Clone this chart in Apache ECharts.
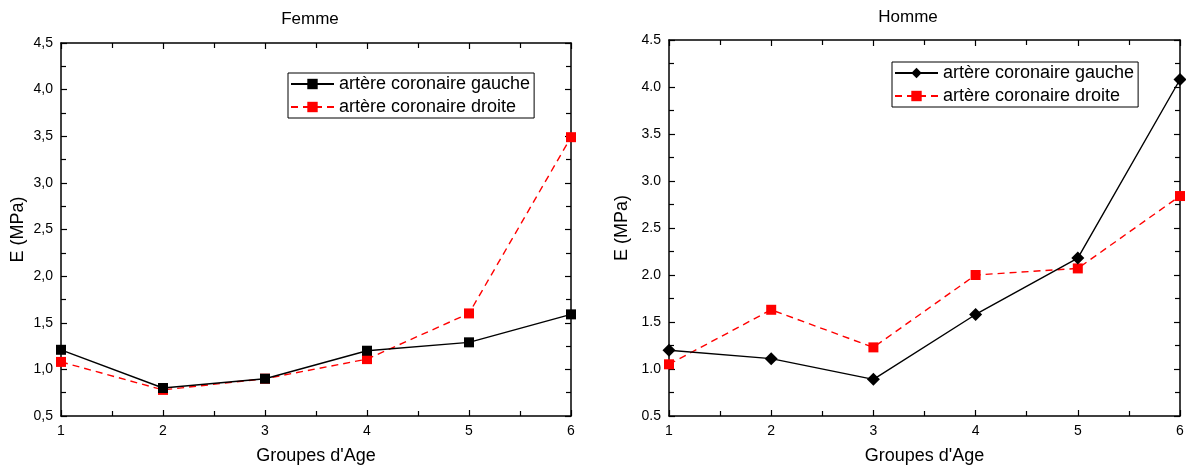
<!DOCTYPE html>
<html>
<head>
<meta charset="utf-8">
<script src="https://cdn.jsdelivr.net/npm/echarts@6/dist/echarts.min.js"></script>
<style>
html,body{margin:0;padding:0;background:#fff;}
#c1{position:absolute;left:0;top:0;width:593px;height:470px;}
#c2{position:absolute;left:593px;top:0;width:593px;height:470px;}
</style>
</head>
<body>
<div id="c1"></div>
<div id="c2"></div>
<script>
const groups = [1, 2, 3, 4, 5, 6];
const femmeGauche = [1.21, 0.80, 0.90, 1.20, 1.29, 1.59];
const femmeDroite = [1.08, 0.78, 0.90, 1.11, 1.60, 3.49];
const hommeGauche = [1.20, 1.11, 0.89, 1.58, 2.18, 4.08];
const hommeDroite = [1.05, 1.63, 1.23, 2.00, 2.07, 2.84];
const nameGauche = 'artère coronaire gauche';
const nameDroite = 'artère coronaire droite';
const titles = ['Femme', 'Homme'];
const xName = "Groupes d'Age";
const yName = 'E (MPa)';

const FONT = 'Liberation Sans, Arial, sans-serif';
const pairs = arr => groups.map((g, i) => [g, arr[i]]);

function makeOption(cfg) {
  const axisLine = {show: true, onZero: false, lineStyle: {color: '#000', width: 1.5}};
  const tick = {show: true, inside: true, length: 6, lineStyle: {color: '#000', width: 1.2}};
  const minor = {show: true, splitNumber: 2, length: 5, lineStyle: {color: '#000', width: 1.2}};
  const grid = {left: cfg.gridLeft, top: cfg.gridTop, width: cfg.gridWidth, height: cfg.gridHeight,
    containLabel: false, outerBoundsMode: 'none'};
  return {
    animation: false,
    backgroundColor: '#fff',
    title: {text: cfg.title, left: cfg.titleX, top: cfg.titleTop, textAlign: 'center', padding: 0,
      textStyle: {fontFamily: FONT, fontSize: 17, fontWeight: 'normal', color: '#000'}},
    grid: grid,
    legend: {
      orient: 'vertical', left: cfg.legendLeft, top: cfg.legendTop,
      selectedMode: false, backgroundColor: '#fff',
      borderColor: '#000', borderWidth: 1, borderRadius: 0,
      padding: [2, 4, 2, 2], itemWidth: 43, itemHeight: 13, itemGap: 5,
      textStyle: {fontFamily: FONT, fontSize: 18, color: '#000'},
      data: [nameGauche, nameDroite]
    },
    xAxis: [
      {type: 'value', min: 1, max: 6, interval: 1, position: 'bottom',
       axisLine: axisLine, axisTick: tick, minorTick: minor, splitLine: {show: false},
       axisLabel: {fontFamily: FONT, fontSize: 14, color: '#000', margin: 8},
       name: xName, nameLocation: 'middle', nameGap: 31, nameMoveOverlap: false,
       nameTextStyle: {fontFamily: FONT, fontSize: 18, color: '#000'}},
      {type: 'value', min: 1, max: 6, interval: 1, position: 'top',
       axisLine: axisLine, axisTick: tick, minorTick: minor, splitLine: {show: false},
       axisLabel: {show: false}}
    ],
    yAxis: [
      {type: 'value', min: 0.5, max: 4.5, interval: 0.5, position: 'left',
       axisLine: axisLine, axisTick: tick, minorTick: minor, splitLine: {show: false},
       axisLabel: {fontFamily: FONT, fontSize: 14, color: '#000', margin: 8,
         formatter: v => cfg.fmt(v)},
       name: yName, nameLocation: 'middle', nameGap: cfg.yNameGap, nameRotate: 90,
       nameMoveOverlap: false,
       nameTextStyle: {fontFamily: FONT, fontSize: 18, color: '#000'}},
      {type: 'value', min: 0.5, max: 4.5, interval: 0.5, position: 'right',
       axisLine: axisLine, axisTick: tick, minorTick: minor, splitLine: {show: false},
       axisLabel: {show: false}}
    ],
    series: [
      {name: nameGauche, type: 'line', data: pairs(cfg.gauche), clip: false,
       symbol: cfg.gaucheSymbol, symbolSize: cfg.gaucheSize,
       itemStyle: {color: '#000'}, lineStyle: {color: '#000', width: 1.4}, z: 3},
      {name: nameDroite, type: 'line', data: pairs(cfg.droite), clip: false,
       symbol: 'rect', symbolSize: 10,
       itemStyle: {color: '#ff0000'}, lineStyle: {color: '#ff0000', width: 1.4, type: [7, 5]}, z: 2}
    ]
  };
}

const c1 = echarts.init(document.getElementById('c1'), null, {renderer: 'canvas'});
c1.setOption(makeOption({
  title: titles[0], titleX: 310, titleTop: 11,
  gridLeft: 61, gridTop: 43, gridWidth: 510, gridHeight: 373,
  legendLeft: 288, legendTop: 73, yNameGap: 34,
  fmt: v => v.toFixed(1).replace('.', ','),
  gauche: femmeGauche, droite: femmeDroite, gaucheSymbol: 'rect', gaucheSize: 10
}));

const c2 = echarts.init(document.getElementById('c2'), null, {renderer: 'canvas'});
c2.setOption(makeOption({
  title: titles[1], titleX: 315, titleTop: 9,
  gridLeft: 76, gridTop: 40, gridWidth: 511, gridHeight: 376,
  legendLeft: 299, legendTop: 62, yNameGap: 38,
  fmt: v => v.toFixed(1),
  gauche: hommeGauche, droite: hommeDroite, gaucheSymbol: 'diamond', gaucheSize: 13
}));
</script>
</body>
</html>
